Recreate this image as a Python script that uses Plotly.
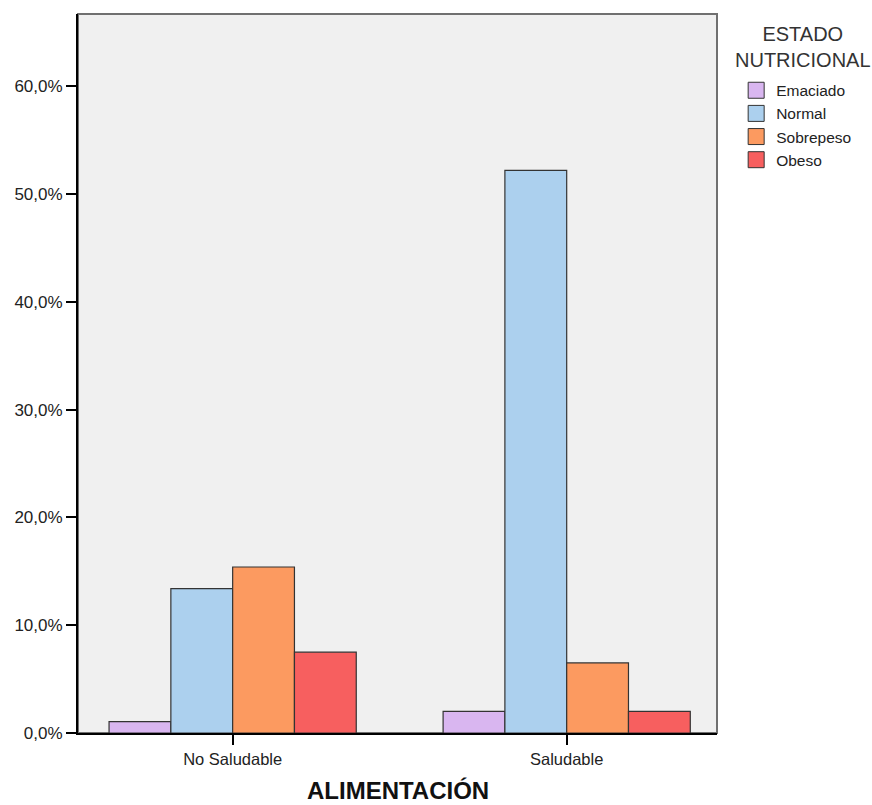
import plotly.graph_objects as go

categories = ["No Saludable", "Saludable"]
series_names = ["Emaciado", "Normal", "Sobrepeso", "Obeso"]
emaciado = [1.05, 2.0]
normal = [13.4, 52.2]
sobrepeso = [15.4, 6.5]
obeso = [7.5, 2.0]
series_values = [emaciado, normal, sobrepeso, obeso]
colors = ["#d9b6f0", "#acd0ee", "#fc9a60", "#f75f5f"]
y_ticks = [0, 10, 20, 30, 40, 50, 60]
y_tick_labels = ["0,0%", "10,0%", "20,0%", "30,0%", "40,0%", "50,0%", "60,0%"]

FONT = "Liberation Sans, Arial, sans-serif"

fig = go.Figure()
for name, vals, col in zip(series_names, series_values, colors):
    fig.add_trace(go.Bar(
        x=categories, y=vals, name=name, showlegend=False,
        marker=dict(color=col, line=dict(color="#333333", width=1.2)),
    ))
# legend entries (square swatches)
for name, col in zip(series_names, colors):
    fig.add_trace(go.Scatter(
        x=[None], y=[None], mode="markers", name=name,
        marker=dict(symbol="square", size=16, color=col,
                    line=dict(color="#333333", width=1)),
    ))

fig.update_layout(
    width=872, height=805,
    margin=dict(l=78, r=155, t=14, b=72),
    paper_bgcolor="white", plot_bgcolor="#f0f0f0",
    barmode="group", bargap=0.26, bargroupgap=0,
    separators=",.",
    font=dict(family=FONT, size=16, color="#222222"),
    showlegend=True,
    legend=dict(x=1.03, xanchor="left", y=0.917, yanchor="top",
                font=dict(size=15.5, color="#222222"),
                bgcolor="rgba(0,0,0,0)", itemclick=False),
    xaxis=dict(range=[-0.463, 1.45], showline=True, linecolor="black", linewidth=2,
               ticks="outside", ticklen=10, tickcolor="black", tickwidth=1.5,
               tickfont=dict(size=16.5), showgrid=False, zeroline=False,
               fixedrange=True),
    yaxis=dict(range=[0, 66.7], tickvals=y_ticks, ticktext=y_tick_labels,
               showline=True, linecolor="black", linewidth=2,
               ticks="outside", ticklen=10, tickcolor="black", tickwidth=1.5,
               tickfont=dict(size=17), showgrid=False, zeroline=False,
               fixedrange=True),
    shapes=[dict(type="rect", xref="paper", yref="paper", x0=0, x1=1, y0=0, y1=1,
                 line=dict(color="#707070", width=2), layer="below")],
    annotations=[
        dict(text="<b>ALIMENTACIÓN</b>", xref="paper", yref="paper",
             x=0.5, y=-0.0805, xanchor="center", yanchor="middle", showarrow=False,
             font=dict(size=24, color="#111111", family=FONT)),
        dict(text="ESTADO<br>NUTRICIONAL", xref="paper", yref="paper",
             x=1.1346, y=0.990, xanchor="center", yanchor="top", showarrow=False,
             align="center", font=dict(size=20, color="#333333", family=FONT)),
    ],
)

fig.write_html("out.html", config={"displayModeBar": False},
               post_script="document.body.style.margin='0px';")
